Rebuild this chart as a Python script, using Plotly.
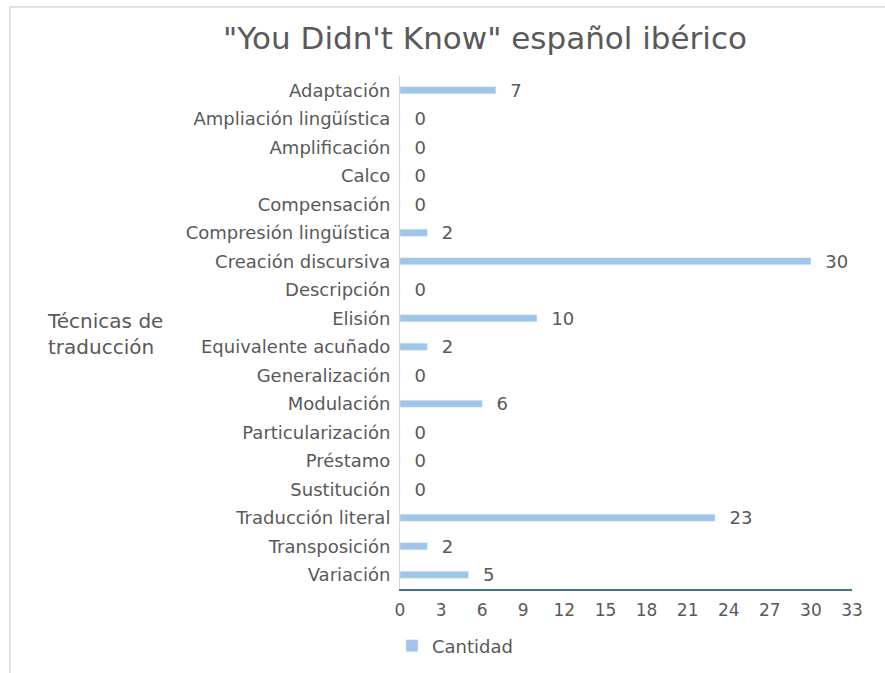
import plotly.graph_objects as go

categories = ["Adaptación", "Ampliación lingüística", "Amplificación", "Calco", "Compensación",
              "Compresión lingüística", "Creación discursiva", "Descripción", "Elisión",
              "Equivalente acuñado", "Generalización", "Modulación", "Particularización",
              "Préstamo", "Sustitución", "Traducción literal", "Transposición", "Variación"]
values = [7, 0, 0, 0, 0, 2, 30, 0, 10, 2, 0, 6, 0, 0, 0, 23, 2, 5]
x_ticks = list(range(0, 34, 3))

W, H = 885, 673
L, R, T, B = 400, 33, 76, 84
pw, ph = W - L - R, H - T - B
FONT = "DejaVu Sans, Liberation Sans, Arial"
GREY = "#595959"

def px_x(p):
    return (p - L) / pw

def px_y(p):
    return (H - B - p) / ph

fig = go.Figure()
fig.add_trace(go.Bar(
    y=categories, x=values, orientation="h", name="Cantidad",
    marker=dict(color="#9fc5e8"), width=0.25,
    text=[f"  {v}" for v in values], textposition="outside", cliponaxis=False,
    constraintext="none",
    textfont=dict(size=18, color=GREY, family=FONT),
    showlegend=True,
))

fig.update_layout(
    width=W, height=H,
    margin=dict(l=L, r=R, t=T, b=B, autoexpand=False),
    paper_bgcolor="white", plot_bgcolor="white",
    font=dict(family=FONT, color=GREY),
    title=dict(text="\"You Didn't Know\" español ibérico", x=0.548, xanchor="center",
               y=1 - 38 / H, yanchor="middle",
               font=dict(size=31, color=GREY, family=FONT)),
    xaxis=dict(range=[0, 33], tickvals=x_ticks, showgrid=False, zeroline=False,
               showline=True, linecolor="#3f7590", linewidth=1.5,
               tickfont=dict(size=17, color=GREY), ticks="", ticklen=0,
               ticklabelstandoff=5),
    yaxis=dict(autorange="reversed", showgrid=False, zeroline=False,
               showline=True, linecolor="#d9d9d9", linewidth=1,
               tickfont=dict(size=18, color=GREY), ticks="", ticklabelstandoff=5),
    showlegend=True,
    legend=dict(orientation="h", x=px_x(392), xanchor="left", y=px_y(646), yanchor="middle",
                font=dict(size=18, color=GREY), itemwidth=30),
    bargap=0.75,
)

fig.add_annotation(text="Técnicas de<br>traducción", xref="paper", yref="paper",
                   x=px_x(45), y=px_y(334), xanchor="left", yanchor="middle",
                   align="left", showarrow=False,
                   font=dict(size=20, color=GREY, family=FONT))

fig.add_shape(type="rect", xref="paper", yref="paper",
              x0=px_x(10), x1=px_x(900), y0=px_y(700), y1=px_y(7),
              line=dict(color="#d9d9d9", width=1.5), fillcolor="rgba(0,0,0,0)", layer="below")

fig.write_html("out.html", config={"displayModeBar": False},
               post_script="document.body.style.margin='0';")
